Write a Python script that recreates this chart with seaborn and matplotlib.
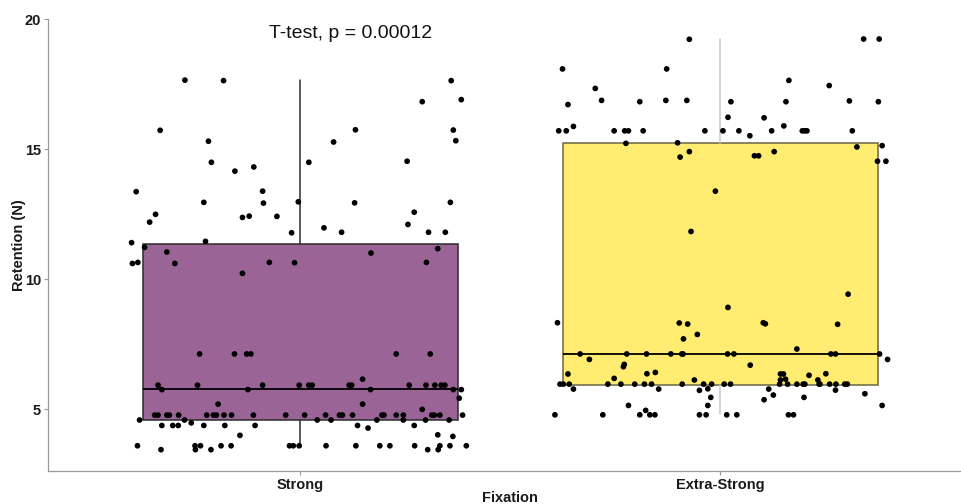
import pandas as pd
import matplotlib.pyplot as plt
import seaborn as sns

# Categories and colours
groups = ["Strong", "Extra-Strong"]
box_colors = ["#9a6497", "#ffec70"]
edge_colors = ["#2b2b2b", "#6b6540"]
whisker_colors = ["#2b2b2b", "#c8c8c8"]

# Box summaries
q1 = [4.58, 5.92]
medians = [5.76, 7.12]
q3 = [11.33, 15.22]
whisker_lo = [3.55, 4.81]
whisker_hi = [17.65, 19.22]

# Jittered observations: retention values and horizontal jitter (category units)
strong_vals = [
    17.65, 17.63, 17.63, 16.82, 16.90, 15.72, 15.74, 15.73, 15.30, 15.27,
    15.32, 14.49, 14.49, 14.53, 14.15, 14.31, 13.36, 13.38, 12.95, 12.92,
    12.97, 12.93, 12.95, 12.49, 12.19, 12.37, 12.42, 12.41, 12.57, 12.10,
    11.97, 11.80, 11.78, 11.80, 11.80, 11.40, 11.45, 11.22, 11.04, 11.17,
    11.00, 10.60, 10.64, 10.60, 10.64, 10.63, 10.64, 10.22,
    7.12, 7.12, 7.12, 7.12, 7.12, 7.12,
    5.92, 5.92, 5.92, 5.92, 5.92, 5.92, 5.92, 5.92, 5.92, 5.92, 5.92, 5.92, 5.92,
    6.15, 5.75, 5.75, 5.75, 5.75, 5.75, 5.42, 5.19, 5.19, 4.99,
    4.77, 4.77, 4.77, 4.77, 4.77, 4.77, 4.77, 4.77, 4.77, 4.77, 4.77, 4.77, 4.77,
    4.77, 4.77, 4.77, 4.77, 4.77, 4.77, 4.77, 4.77, 4.77, 4.77, 4.77, 4.77,
    4.58, 4.58, 4.58, 4.58, 4.58, 4.58, 4.58, 4.58, 4.47,
    4.37, 4.37, 4.37, 4.37, 4.37, 4.37, 4.37, 4.37,
    4.27, 3.99, 4.01, 3.95,
    3.59, 3.59, 3.59, 3.59, 3.59, 3.59, 3.59, 3.59, 3.59, 3.59, 3.59, 3.59,
    3.59, 3.59, 3.59, 3.59,
    3.44, 3.44, 3.44, 3.44, 3.44,
]
strong_jitter = [
    -0.274, -0.182, 0.360, 0.291, 0.384, -0.333, 0.132, 0.365, -0.218, 0.080,
    0.371, -0.211, 0.021, 0.255, -0.155, -0.110, -0.390, -0.089, -0.229, -0.087,
    -0.004, 0.130, 0.358, -0.344, -0.358, -0.137, -0.121, -0.055, 0.272, 0.257,
    0.057, 0.099, -0.020, 0.306, 0.346, -0.401, -0.225, -0.370, -0.317, 0.328,
    0.169, -0.399, -0.386, -0.298, -0.073, -0.013, 0.301, -0.137,
    -0.239, -0.156, -0.127, -0.117, 0.229, 0.310,
    -0.338, -0.244, -0.089, -0.002, 0.021, 0.029, 0.117, 0.123, 0.260, 0.300,
    0.321, 0.336, 0.345,
    0.149, -0.329, -0.124, 0.168, 0.365, 0.384, 0.379, -0.195, 0.149, 0.291,
    -0.346, -0.338, -0.317, -0.311, -0.289, -0.222, -0.206, -0.199, -0.181,
    -0.163, -0.111, -0.034, 0.011, 0.061, 0.094, 0.101, 0.125, 0.195, 0.200,
    0.229, 0.246, 0.314, 0.320, 0.333, 0.387,
    -0.382, -0.275, 0.041, 0.074, 0.183, 0.246, 0.299, 0.355, -0.259,
    -0.329, -0.303, -0.290, -0.229, -0.179, -0.107, 0.137, 0.272,
    0.162, -0.143, 0.328, 0.364,
    -0.387, -0.250, -0.237, -0.188, -0.164, -0.025, -0.016, -0.002, 0.062,
    0.133, 0.190, 0.214, 0.273, 0.333, 0.357, 0.396,
    -0.331, -0.249, -0.212, 0.304, 0.329,
]

extra_vals = [
    19.22, 19.23, 19.23, 18.08, 18.08, 17.64, 17.33, 17.44, 16.71, 16.87,
    16.82, 16.87, 16.87, 16.82, 16.82, 16.85, 16.82, 16.22, 16.20, 15.89, 15.87,
    15.70, 15.70, 15.70, 15.70, 15.70, 15.70, 15.70, 15.70, 15.70, 15.70,
    15.70, 15.70, 15.70, 15.70,
    15.51, 15.22, 15.24, 15.13, 15.08, 14.69, 14.90, 14.74, 14.74, 14.90,
    14.53, 14.53, 13.38, 11.83, 9.42, 8.91, 8.32, 8.31, 8.27, 8.32,
    8.28, 8.26, 7.70, 7.87, 7.31,
    7.12, 7.12, 7.12, 7.12, 7.12, 7.12, 7.12, 7.12, 7.12, 7.12, 7.12,
    6.91, 6.91, 6.69, 6.63, 6.72, 6.41, 6.36, 6.35, 6.35, 6.35, 6.30, 6.36,
    6.18, 6.12, 6.12, 6.15, 6.12,
    5.96, 5.96, 5.96, 5.96, 5.96, 5.96, 5.96, 5.96, 5.96, 5.96, 5.96, 5.96,
    5.96, 5.96, 5.96, 5.96, 5.96, 5.96, 5.96, 5.96, 5.96, 5.96, 5.96, 5.96,
    5.77, 5.77, 5.72, 5.78, 5.77, 5.73, 5.54, 5.59, 5.45, 5.45, 5.36, 5.14,
    5.14, 5.14, 4.95,
    4.78, 4.78, 4.78, 4.78, 4.78, 4.78, 4.78, 4.78, 4.78, 4.78, 4.78,
]
extra_jitter = [
    -0.073, 0.342, 0.379, -0.375, -0.127, 0.164, -0.297, 0.260, -0.362, -0.282,
    -0.191, -0.129, -0.079, 0.026, 0.157, 0.308, 0.377, 0.019, 0.105, 0.152, -0.349,
    -0.384, -0.366, -0.252, -0.227, -0.218, -0.183, -0.036, 0.007, 0.045, 0.123,
    0.196, 0.202, 0.207, 0.315,
    0.071, -0.224, -0.101, 0.386, 0.326, -0.095, -0.073, 0.082, 0.092, 0.129,
    0.375, 0.395, -0.011, -0.069, 0.305, 0.019, -0.387, -0.097, -0.077, 0.103,
    0.108, 0.280, -0.087, -0.054, 0.183,
    -0.333, -0.222, -0.175, -0.117, -0.091, -0.088, 0.018, 0.033, 0.264, 0.275, 0.380,
    -0.311, 0.399, 0.072, -0.230, -0.228, -0.154, -0.174, -0.362, 0.144, 0.151,
    0.212, 0.252, -0.252, -0.061, 0.144, 0.156, 0.233,
    -0.381, -0.373, -0.359, -0.267, -0.236, -0.203, -0.180, -0.163, -0.090,
    -0.039, -0.020, 0.010, 0.025, 0.142, 0.161, 0.183, 0.198, 0.202, 0.236,
    0.238, 0.261, 0.276, 0.297, 0.303,
    -0.349, -0.146, -0.049, -0.029, 0.116, 0.275, 0.127, 0.345, -0.022, 0.200,
    0.105, -0.218, -0.029, 0.386, -0.177,
    -0.393, -0.279, -0.191, -0.167, -0.155, -0.049, -0.033, 0.016, 0.040, 0.163, 0.175,
]

p_label = "T-test, p = 0.00012"

# Build a long table for the points
df = pd.concat([
    pd.DataFrame({"Fixation": groups[0], "Retention": strong_vals, "jit": strong_jitter}),
    pd.DataFrame({"Fixation": groups[1], "Retention": extra_vals, "jit": extra_jitter}),
], ignore_index=True)
df["xpos"] = df["Fixation"].map({g: i for i, g in enumerate(groups)}) + df["jit"]

sns.set_style("white")
plt.rcParams["font.family"] = ["Liberation Sans", "DejaVu Sans"]

fig = plt.figure(figsize=(9.62, 5.04), dpi=100)
ax = fig.add_axes([0.0499, 0.0655, 0.9605, 0.8968])

# Boxes (no caps, ggplot style)
for i, g in enumerate(groups):
    stats = [{"q1": q1[i], "med": medians[i], "q3": q3[i],
              "whislo": whisker_lo[i], "whishi": whisker_hi[i], "fliers": []}]
    ax.bxp(stats, positions=[i], widths=0.75, patch_artist=True, showcaps=False,
           boxprops=dict(facecolor=box_colors[i], edgecolor=edge_colors[i], linewidth=1.1),
           whiskerprops=dict(color=whisker_colors[i], linewidth=1.1),
           medianprops=dict(color="black", linewidth=1.3),
           manage_ticks=False, zorder=1)

sns.scatterplot(data=df, x="xpos", y="Retention", color="black", s=17,
                edgecolor="none", zorder=3, ax=ax, legend=False)

ax.text(0.12, 19.46, p_label, ha="center", va="center", fontsize=14, color="#111111")

ax.set_xlim(-0.6, 1.6)
ax.set_ylim(2.62, 20.0)
ax.set_xticks([0, 1])
ax.set_xticklabels(groups)
ax.set_yticks([5, 10, 15, 20])

for side in ["top", "right"]:
    ax.spines[side].set_visible(False)
for side in ["left", "bottom"]:
    ax.spines[side].set_color("#9a9a9a")
    ax.spines[side].set_linewidth(0.9)

ax.tick_params(axis="both", which="major", length=3, width=0.8, color="#9a9a9a",
               labelsize=10.5, labelcolor="#1a1a1a", pad=2, left=True, bottom=True)
for lab in ax.get_xticklabels() + ax.get_yticklabels():
    lab.set_fontweight("bold")

ax.set_xlabel("Fixation", fontsize=10.5, fontweight="bold", color="#1a1a1a")
ax.set_ylabel("Retention (N)", fontsize=10.5, fontweight="bold", color="#1a1a1a")
ax.xaxis.set_label_coords(0.5, -0.045)
ax.yaxis.set_label_coords(-0.0235, 0.5)

fig.savefig("out.png", dpi=100)
